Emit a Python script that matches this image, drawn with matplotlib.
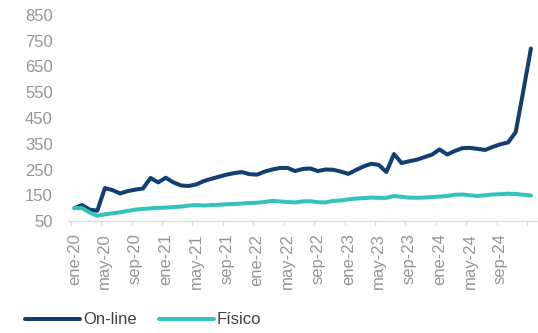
import matplotlib.pyplot as plt

plt.rcParams['font.family'] = ['Liberation Sans', 'DejaVu Sans']

# monthly index, ene-20 = 100
months = ["ene", "feb", "mar", "abr", "may", "jun", "jul", "ago", "sep", "oct", "nov", "dic"]
labels = [f"{months[i % 12]}-{20 + i // 12}" for i in range(61)]

online = [100, 112, 94, 90, 178, 170, 157, 166, 172, 176,
          217, 200, 218, 200, 188, 186, 192, 205, 214, 222,
          230, 236, 240, 232, 230, 242, 250, 256, 256, 244,
          252, 254, 244, 250, 249, 242, 233, 248, 262, 272,
          268, 240, 310, 275, 282, 288, 298, 308, 328, 308,
          322, 333, 334, 330, 326, 338, 348, 355, 395, 555,
          720]

fisico = [100, 100, 83, 70, 76, 80, 84, 89, 94, 97,
          99, 101, 102, 104, 106, 110, 112, 110, 112, 113,
          115, 116, 118, 120, 121, 124, 128, 126, 124, 122,
          126, 127, 123, 122, 128, 130, 134, 137, 139, 141,
          140, 140, 147, 144, 141, 140, 141, 143, 145, 147,
          152, 153, 150, 147, 150, 153, 154, 156, 155, 152,
          149]

yticks = list(range(50, 851, 100))
label_pos = list(range(0, 57, 4))  # ene-20 ... sep-24

NAVY = "#123e72"
TEAL = "#33c3bc"
GREY = "#959595"

fig = plt.figure(figsize=(5.38, 3.33), dpi=100)
ax = fig.add_axes([68 / 538, 1 - 221 / 333, 469 / 538, 206 / 333])

x = list(range(len(online)))
ax.plot(x, online, color=NAVY, lw=2.9, solid_capstyle="round", solid_joinstyle="round", label="On-line")
ax.plot(x, fisico, color=TEAL, lw=2.9, solid_capstyle="round", solid_joinstyle="round", label="Físico")

ax.set_xlim(-0.85, 60.8)
ax.set_ylim(50, 850)
ax.set_yticks(yticks)
ax.tick_params(axis="y", length=0, pad=11, labelsize=12, labelcolor=GREY)

ax.set_xticks(label_pos)
ax.set_xticklabels([labels[i] for i in label_pos], rotation=90, va="top", ha="center")
ax.set_xticks([i - 0.5 for i in range(0, 61, 4)], minor=True)
ax.tick_params(axis="x", which="major", length=0, pad=9, labelsize=12, labelcolor=GREY)
ax.tick_params(axis="x", which="minor", length=3, color="#d9d9d9", width=0.8)

for side in ["top", "right", "left"]:
    ax.spines[side].set_visible(False)
ax.spines["bottom"].set_color("#d9d9d9")
ax.spines["bottom"].set_linewidth(0.9)

handles, names = ax.get_legend_handles_labels()
fig.legend(handles, names, loc="center left", bbox_to_anchor=(25 / 538, 1 - 320 / 333),
           ncol=2, frameon=False, fontsize=12, handlelength=3.3, handletextpad=0.2,
           columnspacing=1.3, borderpad=0, borderaxespad=0, labelcolor="#404040")

fig.savefig("out.png", dpi=100)
